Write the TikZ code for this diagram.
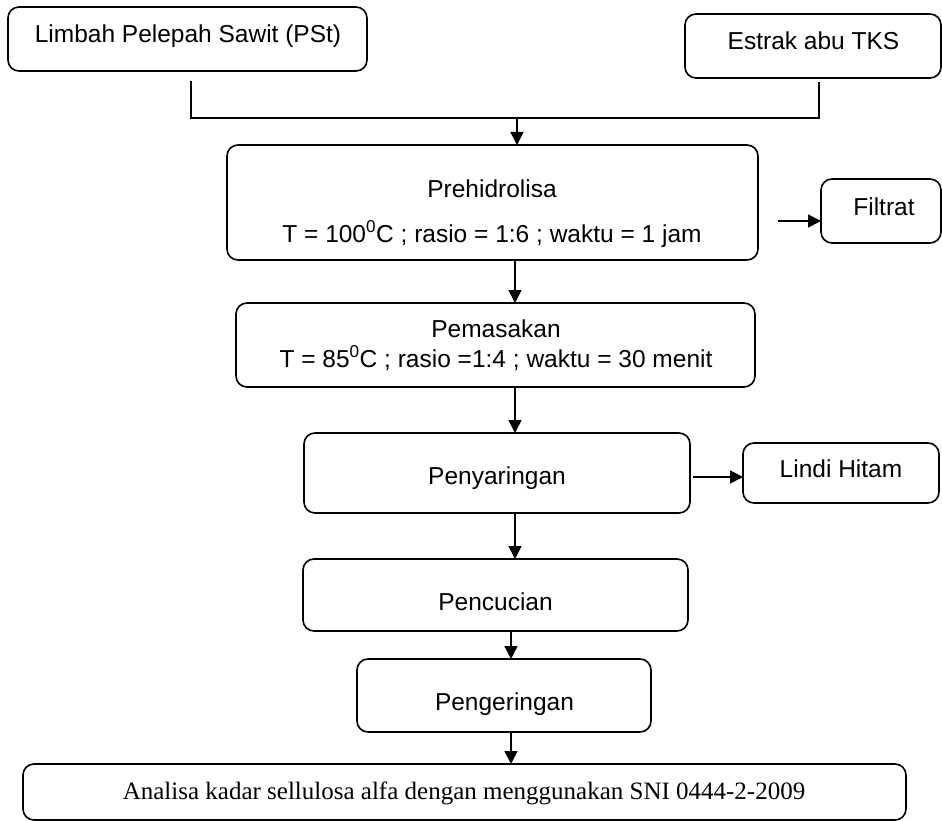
\documentclass[tikz,border=0pt]{standalone}
\usepackage{fontspec}
\setmainfont{Liberation Sans}
\newfontfamily\serifface{Liberation Serif}
\usetikzlibrary{arrows.meta}

\begin{document}
\begin{tikzpicture}[x=1pt,y=-1pt,
  procbox/.style={draw, line width=1.6pt, rounded corners=11pt, inner sep=0pt, outer sep=0pt},
  txt/.style={inner sep=0pt, anchor=base, font=\fontsize{24.5}{29}\selectfont},
  serif txt/.style={inner sep=0pt, anchor=base, font=\serifface\fontsize{25}{30}\selectfont},
  link/.style={line width=1.6pt},
  arr/.style={line width=1.6pt, -{Triangle[length=13pt,width=13pt]}}]
\useasboundingbox (0,0) rectangle (942,821);

% process boxes
\node[procbox, minimum width=359pt, minimum height=64pt]  (A) at (187.5,39)   {};
\node[procbox, minimum width=256pt, minimum height=64pt]  (B) at (813,46)     {};
\node[procbox, minimum width=531pt, minimum height=115pt] (P) at (492.5,202.5){};
\node[procbox, minimum width=120pt, minimum height=64pt]  (F) at (881,211)    {};
\node[procbox, minimum width=519pt, minimum height=84pt]  (M) at (495.5,345)  {};
\node[procbox, minimum width=386pt, minimum height=80pt]  (S) at (497,473)    {};
\node[procbox, minimum width=196pt, minimum height=60pt]  (L) at (841,473)    {};
\node[procbox, minimum width=385pt, minimum height=72pt]  (C) at (495.5,595)  {};
\node[procbox, minimum width=294pt, minimum height=73pt]  (G) at (504,695.5)  {};
\node[procbox, minimum width=883pt, minimum height=56pt]  (N) at (464.5,792)  {};

% box texts
\node[txt] (At)  at (188,43)  {Limbah Pelepah Sawit (PSt)};
\node[txt] (Bt)  at (813.5,50) {Estrak abu TKS};
\node[txt] (Pt1) at (492,197) {Prehidrolisa};
\node[txt] (Pt2) at (492,242) {T = 100\textsuperscript{0}C ; rasio = 1:6 ; waktu = 1 jam};
\node[txt] (Ft)  at (884,215) {Filtrat};
\node[txt] (Mt1) at (496,337) {Pemasakan};
\node[txt] (Mt2) at (496,367) {T = 85\textsuperscript{0}C ; rasio =1:4 ; waktu = 30 menit};
\node[txt] (St)  at (497,484) {Penyaringan};
\node[txt] (Lt)  at (841,477) {Lindi Hitam};
\node[txt] (Ct)  at (495.5,610) {Pencucian};
\node[txt] (Gt)  at (504.5,710) {Pengeringan};
\node[serif txt] (Nt) at (464,799) {Analisa kadar sellulosa alfa dengan menggunakan SNI 0444-2-2009};

% junction points
\coordinate (a0) at (191,81);
\coordinate (b0) at (819,82);
\coordinate (j)  at (517,118);
\coordinate (ax1) at (515,0);
\coordinate (ax2) at (511,0);
\coordinate (f0) at (778,221);
\coordinate (l0) at (693,477);

% merging the two inputs
\draw[link] (a0) |- (j -| b0) -- (b0);
\draw[arr] (j) -- (P.north -| j);

% main flow
\draw[arr] (P.south -| ax1) -- (M.north -| ax1);
\draw[arr] (M.south -| ax1) -- (S.north -| ax1);
\draw[arr] (S.south -| ax1) -- (C.north -| ax1);
\draw[arr] (C.south -| ax2) -- (G.north -| ax2);
\draw[arr] (G.south -| ax2) -- (N.north -| ax2);

% side outputs
\draw[arr] (f0) -- (F.west |- f0);
\draw[arr] (l0) -- (L.west |- l0);
\end{tikzpicture}
\end{document}
